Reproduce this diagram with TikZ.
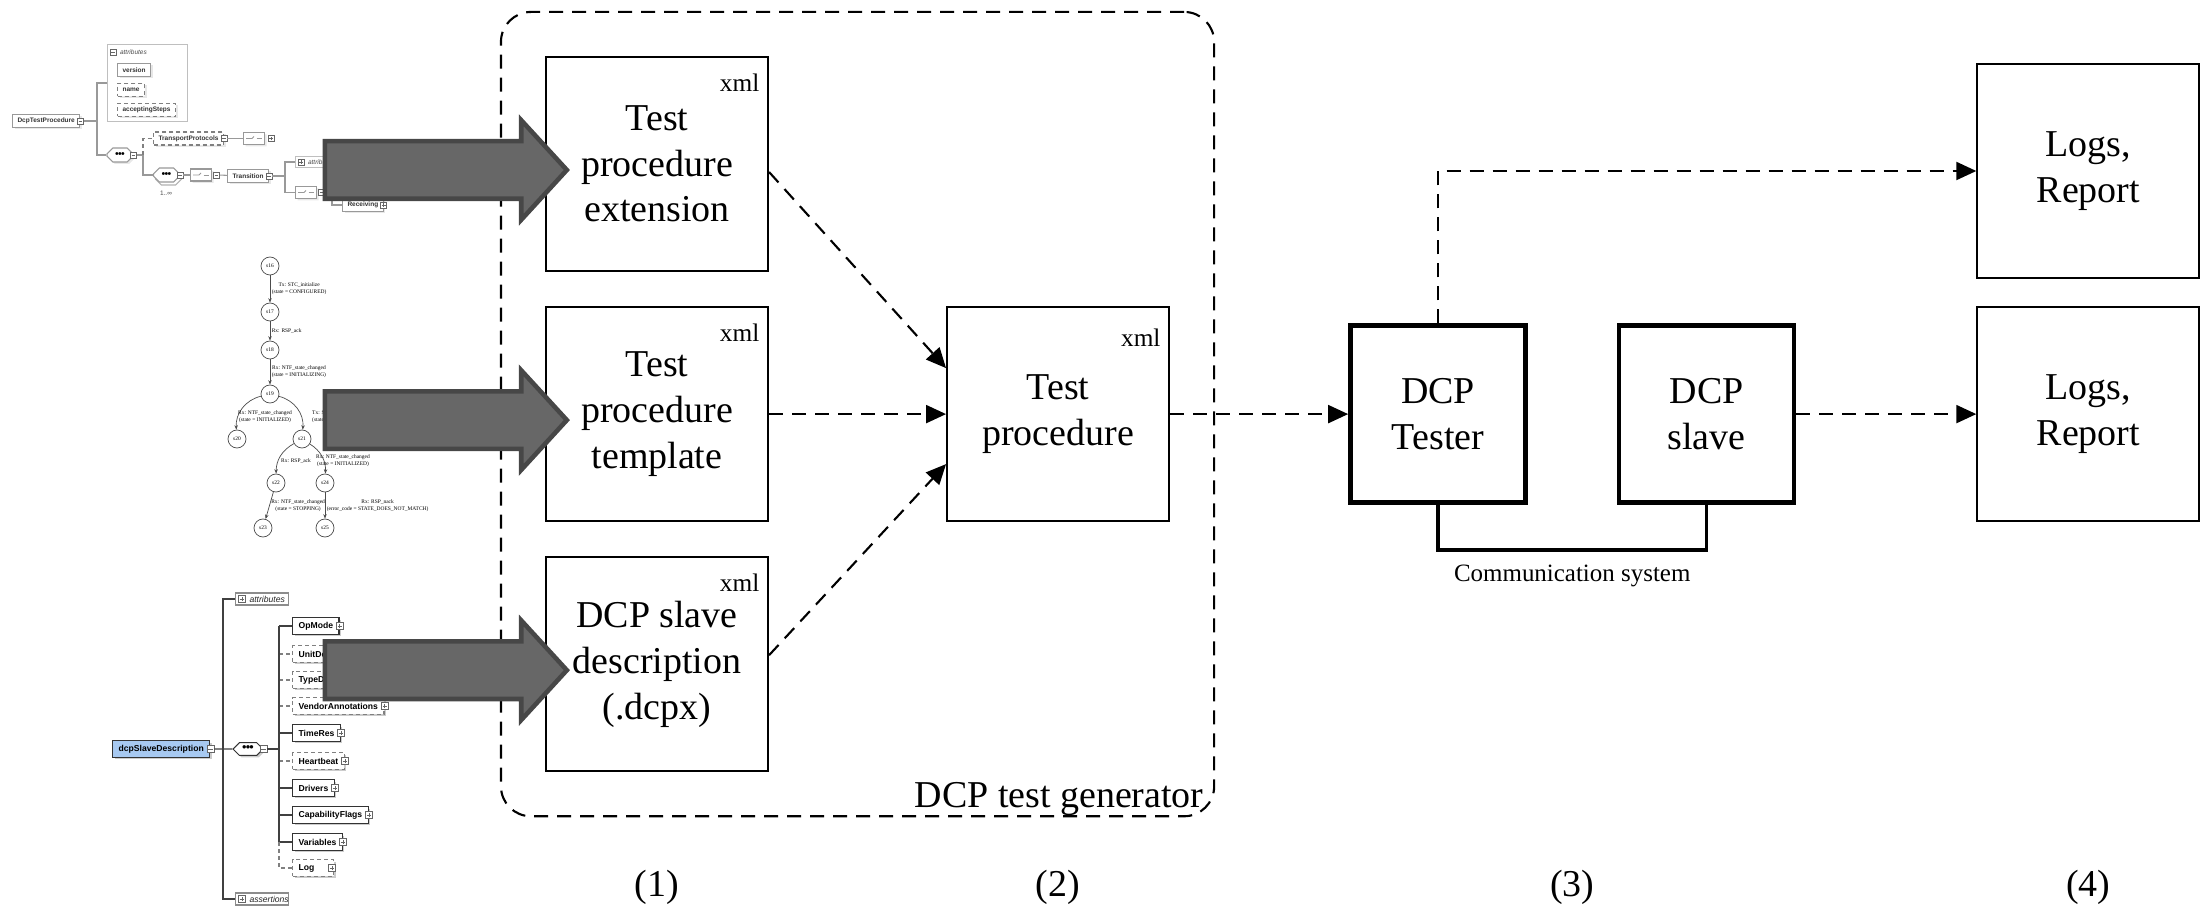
\documentclass[tikz,border=0pt]{standalone}
\usepackage{fontspec}
\setmainfont{Liberation Serif}
\setsansfont{Liberation Sans}
\usetikzlibrary{arrows.meta, positioning, shapes.misc, shapes.arrows, fit, calc, shadows}

\definecolor{blockfill}{HTML}{676767}
\definecolor{blockedge}{HTML}{474747}
\definecolor{rootblue}{HTML}{A7C9F1}

\newcommand{\boxfont}{\fontsize{10.8}{13}\selectfont}
\newcommand{\xmlfont}{\fontsize{7.2}{8.6}\selectfont}
\newcommand{\busfont}{\fontsize{7.1}{8.5}\selectfont}
\newcommand{\tpfont}{\fontsize{1.85}{2.2}\selectfont\sffamily\bfseries}
\newcommand{\tpitfont}{\fontsize{1.85}{2.2}\selectfont\sffamily\itshape}
\newcommand{\sdfont}{\fontsize{2.45}{2.9}\selectfont\sffamily\bfseries}
\newcommand{\sditfont}{\fontsize{2.45}{2.9}\selectfont\sffamily\itshape}
\newcommand{\fsmfont}{\fontsize{1.55}{1.9}\selectfont}
\newcommand{\seqdots}[1]{{\fontsize{#1}{#1}\selectfont\sffamily\textbullet\kern-0.06em\textbullet\kern-0.06em\textbullet}}

\tikzset{
  % main blocks
  doc/.style={draw, line width=0.6pt, minimum width=22.2mm, minimum height=21.4mm,
    align=center, font=\boxfont, inner sep=0},
  dcpunit/.style={draw, line width=1.3pt, minimum width=17.5mm, minimum height=17.7mm,
    align=center, font=\boxfont, inner sep=0},
  xmltag/.style={anchor=north east, font=\xmlfont, inner sep=0},
  stagelab/.style={font=\boxfont, inner sep=0},
  flow/.style={dash pattern=on 1.4mm off 0.9mm, line width=0.6pt,
    -{Triangle[length=2mm,width=1.8mm]}},
  genframe/.style={draw, dash pattern=on 1.4mm off 0.9mm, line width=0.6pt,
    rounded corners=3mm, inner sep=4.4mm},
  inarrow/.style={single arrow, fill=blockfill, draw=blockedge, line width=1.3pt,
    minimum height=24.2mm, inner xsep=0, inner ysep=2.65mm, single arrow head extend=2.1mm,
    single arrow tip angle=95, anchor=tip},
  % schema views
  tog/.style={draw=black!60, fill=white, line width=0.2pt, minimum size=#1, inner sep=0},
  tgm/.style={tog=#1, path picture={
    \draw[line width=0.2pt] ($(path picture bounding box.west)!0.2!(path picture bounding box.east)$)
      -- ($(path picture bounding box.west)!0.8!(path picture bounding box.east)$);}},
  tgm/.default=0.6mm,
  tgp/.style={tog=#1, path picture={
    \draw[line width=0.2pt] ($(path picture bounding box.west)!0.2!(path picture bounding box.east)$)
      -- ($(path picture bounding box.west)!0.8!(path picture bounding box.east)$);
    \draw[line width=0.2pt] ($(path picture bounding box.south)!0.2!(path picture bounding box.north)$)
      -- ($(path picture bounding box.south)!0.8!(path picture bounding box.north)$);}},
  tgp/.default=0.6mm,
  req/.style={},
  opt/.style={dash pattern=on 0.4mm off 0.3mm, draw=black!50},
  el1/.style={draw=black!40, fill=white, text=black!80, font=\tpfont, anchor=west,
    inner xsep=0.5mm, inner ysep=0, minimum height=1.3mm, line width=0.3pt,
    drop shadow={shadow xshift=0.2mm, shadow yshift=-0.2mm, fill=black!18}},
  el3/.style={draw=black!80, fill=white, font=\sdfont, anchor=west,
    inner xsep=0.6mm, inner ysep=0, minimum height=1.65mm, line width=0.35pt,
    drop shadow={shadow xshift=0.2mm, shadow yshift=-0.2mm, fill=black!40}},
  grp1/.style={draw=black!25, fill=white, line width=0.3pt, inner sep=0},
  grp3/.style={draw=black!45, fill=white, line width=0.3pt, inner sep=0,
    minimum width=5.3mm, minimum height=1.2mm, anchor=west},
  lab1/.style={font=\tpitfont, text=black!70, inner sep=0, anchor=west},
  lab3/.style={font=\sditfont, text=black!85, inner sep=0, anchor=west},
  comp/.style={chamfered rectangle, chamfered rectangle xsep=0.35mm,
    chamfered rectangle ysep=0.35mm, fill=white, line width=0.3pt, inner sep=0},
  chmark/.style={path picture={
    \coordinate (pw) at (path picture bounding box.west);
    \coordinate (pe) at (path picture bounding box.east);
    \coordinate (pn) at (path picture bounding box.north);
    \coordinate (ps) at (path picture bounding box.south);
    \draw[line width=0.25pt] ($(pw)!0.12!(pe)$) -- ($(pw)!0.4!(pe)$)
      -- ($(pw)!0.5!(pe)+(0mm,0.2mm)$);
    \foreach \f in {0.28,0.5,0.72} \fill ($(ps)!\f!(pn)+(0.12mm,0mm)$) circle (0.08mm);
    \draw[line width=0.25pt] ($(pw)!0.62!(pe)$) -- ($(pw)!0.88!(pe)$);}},
  seq1/.style={comp, draw=black!40, minimum width=2.6mm, minimum height=1.4mm,
    drop shadow={shadow xshift=0.2mm, shadow yshift=-0.2mm, fill=black!18}},
  cho1/.style={comp, chmark, draw=black!40, minimum width=2.1mm, minimum height=1.2mm,
    drop shadow={shadow xshift=0.2mm, shadow yshift=-0.2mm, fill=black!18}},
  seq3/.style={comp, draw=black!80, minimum width=3.0mm, minimum height=1.2mm,
    drop shadow={shadow xshift=0.2mm, shadow yshift=-0.2mm, fill=black!40}},
  wire1/.style={draw=black!40, line width=0.3pt},
  wire3/.style={draw=black!75, line width=0.35pt},
  % state graph
  fsmstate/.style={circle, draw=black!70, line width=0.2pt, minimum size=1.8mm,
    inner sep=0, font=\fsmfont},
  fsmedge/.style={draw=black!70, line width=0.2pt, -{Stealth[length=0.45mm,width=0.35mm]}},
  fsmlab/.style={font=\fsmfont, align=center, inner sep=0.15mm}
}

\begin{document}
\begin{tikzpicture}[x=0.1mm, y=-0.1mm]
  \useasboundingbox (0,0) rectangle (2209,906);

  % DcpTestProcedure schema
  \node[el1] (dtp) at (12,121) {DcpTestProcedure};
  \node[tgm] (dtp-t) at (dtp.east) {};
  \node[grp1, minimum width=8mm, minimum height=7.7mm, anchor=north west] (dtp-at) at (107,44) {};
  \node[tgm] (dtp-at-t) at (113,52) {};
  \node[lab1, right=0.3mm of dtp-at-t] (dtp-at-l) {attributes};
  \node[el1] (ver) at (117,70) {version};
  \node[el1, opt] (nam) at (117,90) {name};
  \node[el1, opt] (acc) at (117,110) {acceptingSteps};
  \node[seq1] (sq1) at (120,155) {\seqdots{3}};
  \node[tgm] (sq1-t) at (sq1.east) {};
  \node[el1, opt] (trp) at (153,138.5) {TransportProtocols};
  \node[tgm] (trp-t) at (trp.east) {};
  \node[cho1] (ch1) at (254,138.5) {};
  \node[tgp] (ch1-t) at ([xshift=0.6mm]ch1.east) {};
  \node[seq1, copy shadow={shadow xshift=0.2mm, shadow yshift=-0.3mm, draw=black!30}] (sq2) at (166.5,175) {\seqdots{3}};
  \node[tgm] (sq2-t) at (sq2.east) {};
  \node[font=\fontsize{1.85}{2.2}\selectfont\sffamily, text=black!70, inner sep=0] (sq2-n) at (166,193) {1..∞};
  \node[cho1] (ch2) at (201,175) {};
  \node[tgm] (ch2-t) at ([xshift=0.45mm]ch2.east) {};
  \node[el1] (trn) at (227,176) {Transition};
  \node[tgm] (trn-t) at (trn.east) {};
  \node[grp1, anchor=west, minimum width=5mm, minimum height=1.05mm] (trn-at) at (295,162) {};
  \node[tgp] (trn-at-t) at (301,162) {};
  \node[lab1, right=0.3mm of trn-at-t] (trn-at-l) {attributes};
  \node[cho1] (ch3) at (306,192.5) {};
  \node[tgm] (ch3-t) at ([xshift=0.45mm]ch3.east) {};
  \node[el1] (rcv) at (342,205) {Receiving};
  \node[tgp] (rcv-t) at (rcv.east) {};
  \coordinate (j1) at (97,121);
  \coordinate (j2) at (143,155);
  \coordinate (j3) at (285,176);
  \coordinate (j4) at (332,192.5);
  \draw[wire1] (dtp-t) -- (j1);
  \draw[wire1] (dtp-at.west) -| (j1) |- (sq1.west);
  \draw[wire1] (sq1-t) -- (j2) |- (sq2.west);
  \draw[wire1, opt] (j2) |- (trp.west);
  \draw[wire1] (trp-t) -- (ch1);
  \draw[wire1] (sq2-t) -- (ch2);
  \draw[wire1] (ch2-t) -- (trn);
  \draw[wire1] (trn-t) -- (j3);
  \draw[wire1] (trn-at.west) -| (j3) |- (ch3.west);
  \draw[wire1] (ch3-t) -- (j4) |- (rcv.west);

  % State graph of a generated test case
  \node[fsmstate] (s16) at (270,266) {s16};
  \node[fsmstate] (s17) at (270,312) {s17};
  \node[fsmstate] (s18) at (270,350) {s18};
  \node[fsmstate] (s19) at (270,394) {s19};
  \node[fsmstate] (s20) at (237,439) {s20};
  \node[fsmstate] (s21) at (302,439) {s21};
  \node[fsmstate] (s22) at (276,483) {s22};
  \node[fsmstate] (s24) at (325,483) {s24};
  \node[fsmstate] (s23) at (263,528) {s23};
  \node[fsmstate] (s25) at (325,528) {s25};
  \draw[fsmedge] (s16) -- node[fsmlab, right] {Tx: STC\_initialize\\(state = CONFIGURED)} (s17);
  \draw[fsmedge] (s17) -- node[fsmlab, right] {Rx: RSP\_ack} (s18);
  \draw[fsmedge] (s18) -- node[fsmlab, right] {Rx: NTF\_state\_changed\\(state = INITIALIZING)} (s19);
  \draw[fsmedge] (s19) to[bend right=40] (s20);
  \node[fsmlab] (l20) at (265,417) {Rx: NTF\_state\_changed\\(state = INITIALIZED)};
  \draw[fsmedge] (s19) to[bend left=40] (s21);
  \node[fsmlab, anchor=west, align=left] (l21) at (310,417) {Tx: STC\_stop\\(state = INITIALIZING)};
  \draw[fsmedge] (s21) to[bend right=30] (s22);
  \node[fsmlab] (l22) at (296,461) {Rx: RSP\_ack};
  \draw[fsmedge] (s21) to[bend left=30] (s24);
  \node[fsmlab] (l24) at (343,461) {Rx: NTF\_state\_changed\\(state = INITIALIZED)};
  \draw[fsmedge] (s22) -- node[fsmlab, right] {Rx: NTF\_state\_changed\\(state = STOPPING)} (s23);
  \draw[fsmedge] (s24) -- node[fsmlab, right] {Rx: RSP\_nack\\(error\_code = STATE\_DOES\_NOT\_MATCH)} (s25);

  % dcpSlaveDescription schema
  \node[el3, fill=rootblue] (dsd) at (112,749) {dcpSlaveDescription};
  \node[tgm=0.7mm] (dsd-t) at (dsd.east) {};
  \node[grp3] (dsd-at) at (235,599) {};
  \node[tgp=0.7mm] (dsd-at-t) at (242,599) {};
  \node[lab3, right=0.3mm of dsd-at-t] (dsd-at-l) {attributes};
  \node[grp3] (dsd-as) at (235,899) {};
  \node[tgp=0.7mm] (dsd-as-t) at (242,899) {};
  \node[lab3, right=0.3mm of dsd-as-t] (dsd-as-l) {assertions};
  \node[seq3] (sqd) at (248,749) {\seqdots{3.6}};
  \node[tgm=0.7mm] (sqd-t) at (sqd.east) {};
  \coordinate (j5) at (223,749);
  \coordinate (j6) at (279,749);
  \draw[wire3] (dsd-t) -- (sqd);
  \draw[wire3] (dsd-at.west) -| (j5) |- (dsd-as.west);
  \draw[wire3] (sqd-t) -- (j6);
  \foreach \nm/\txt/\yy/\kind in {op/OpMode/626/req, un/UnitDefinitions/654/opt,
      ty/TypeDefinitions/680/opt, va/VendorAnnotations/706/opt, tres/TimeRes/733/req,
      hb/Heartbeat/761/opt, drv/Drivers/788/req, cf/CapabilityFlags/815/req,
      vars/Variables/842/req} {
    \node[el3, \kind] (\nm) at (292,\yy) {\txt};
    \node[tgp=0.7mm] (\nm-t) at (\nm.east) {};
    \draw[wire3, \kind] (j6 |- \nm.west) -- (\nm.west);
  }
  \node[el3, opt, text width=2.9mm, align=left] (logel) at (292,868) {Log};
  \node[tgp=0.7mm] (logel-t) at ([xshift=-0.2mm]logel.east) {};
  \draw[wire3] (j6 |- op.west) -- (j6 |- vars.west);
  \draw[wire3, opt] (j6 |- vars.west) |- (logel.west);

  % Inputs of the generator
  \node[doc] (ext) at (657,164) {Test\\procedure\\extension};
  \node[doc, below=3.4mm of ext] (tmpl) {Test\\procedure\\template};
  \node[doc, below=3.4mm of tmpl] (dcpx) {DCP slave\\description\\(.dcpx)};
  % Generated procedure
  \node[doc, right=17.7mm of tmpl] (tp) {Test\\procedure};
  \foreach \d in {ext,tmpl,dcpx}
    \node[xmltag] (\d-xml) at ([xshift=-0.9mm,yshift=-1.7mm]\d.north east) {xml};
  \node[xmltag] (tp-xml) at ([xshift=-0.9mm,yshift=-2.2mm]tp.north east) {xml};
  \node[genframe, fit=(ext)(dcpx)(tp)] (gen) {};
  \node[anchor=base east, font=\boxfont, inner sep=0] (gen-l)
    at ([xshift=-1.1mm,yshift=1mm]gen.south east) {DCP test generator};
  % Test bench
  \node[dcpunit, right=17.8mm of tp] (tester) {DCP\\Tester};
  \node[dcpunit, right=8.9mm of tester] (slave) {DCP\\slave};
  \node[doc, right=18mm of slave] (logs2) {Logs,\\Report};
  \node[doc, above=2.7mm of logs2] (logs1) {Logs,\\Report};
  % Arrows
  \draw[flow] ([yshift=-0.8mm]ext.east) -- ([yshift=4.6mm]tp.west);
  \draw[flow] (tmpl) -- (tp);
  \draw[flow] ([yshift=0.9mm]dcpx.east) -- ([yshift=-5mm]tp.west);
  \draw[flow] (tp) -- (tester);
  \draw[flow] (tester.north) |- (logs1.west);
  \draw[flow] (slave) -- (logs2);
  \draw[line width=1pt] (tester.south) -- ++(0,45) -| node[pos=0.25, below=1.3mm, font=\busfont, inner sep=0] (bus)
    {Communication system} (slave.south);
  % Stages
  \coordinate (stage) at (0,887);
  \node[stagelab] (st1) at (ext |- stage) {(1)};
  \node[stagelab] (st2) at (tp |- stage) {(2)};
  \node[stagelab] (st3) at (bus |- stage) {(3)};
  \node[stagelab] (st4) at (logs2 |- stage) {(4)};
  % Views feeding the inputs
  \foreach \d/\n in {ext/1,tmpl/2,dcpx/3}
    \node[inarrow] (in\n) at ([xshift=2.5mm,yshift=-0.6mm]\d.west) {};
\end{tikzpicture}
\end{document}
